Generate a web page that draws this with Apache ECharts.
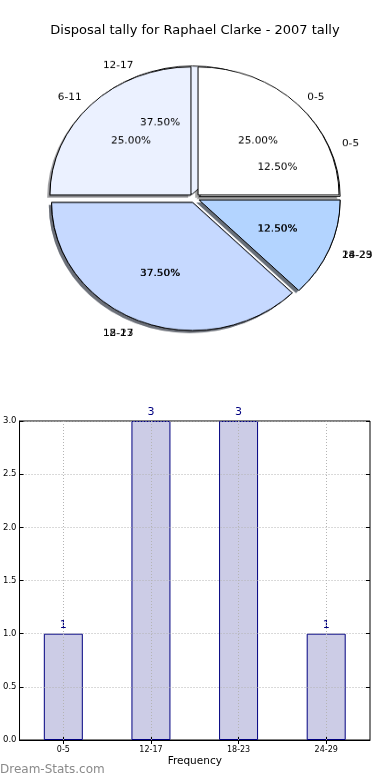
<!DOCTYPE html>
<html><head><meta charset="utf-8">
<script src="https://cdn.jsdelivr.net/npm/echarts@6/dist/echarts.min.js"></script>
<style>
html,body{margin:0;padding:0;background:#fff}
#bar{position:absolute;left:0;top:0;width:390px;height:780px}
#pie{position:absolute;left:0;top:0;width:390px;height:400px;transform:scaleY(0.908);transform-origin:0 0}
</style></head><body>
<div id="bar"></div><div id="pie"></div>
<script>
const titleText = 'Disposal tally for Raphael Clarke - 2007 tally';
const pieACategories = ['0-5', '12-17', '18-23', '24-29'];
const pieAValues = [1, 3, 3, 1];
const pieBCategories = ['0-5', '6-11', '12-17', '18-23'];
const pieBValues = [2, 2, 3, 1];
const barCategories = ['0-5', '12-17', '18-23', '24-29'];
const barValues = [1, 3, 3, 1];
const yTickLabels = ['0.0', '0.5', '1.0', '1.5', '2.0', '2.5', '3.0'];
const xAxisTitle = 'Frequency';
const watermark = 'Dream-Stats.com';

const FONT = 'DejaVu Sans';
const wedgeColors = ['#FFFFFF', '#EBF1FF', '#C6D9FF', '#B3D4FF'];
const R = 141, CX = 194.5, CY = 218.3, EXP = 5;
const SDX = -2.8, SDY = 2.9;

function shadowColor(hex) {
  const n = parseInt(hex.slice(1), 16);
  const r = Math.round(((n >> 16) & 255) * 0.3), g = Math.round(((n >> 8) & 255) * 0.3), b = Math.round((n & 255) * 0.3);
  return 'rgba(' + r + ',' + g + ',' + b + ',0.5)';
}
const basePie = {
  type: 'pie', startAngle: 0, clockwise: false, selectedMode: 'multiple', selectedOffset: EXP,
  silent: true, animation: false, avoidLabelOverlap: false, labelLine: { show: false },
  labelLayout: { hideOverlap: false }, emphasis: { disabled: true }
};
function shadowSeries(cats, vals) {
  return Object.assign({}, basePie, {
    center: [CX + SDX, CY + SDY], radius: [0, R], label: { show: false },
    itemStyle: { borderWidth: 0 },
    data: cats.map((c, i) => ({ name: c, value: vals[i], selected: true,
      itemStyle: { color: shadowColor(wedgeColors[i % wedgeColors.length]) },
      select: { itemStyle: { color: shadowColor(wedgeColors[i % wedgeColors.length]), borderWidth: 0 } } }))
  });
}
function wedgeSeries(cats, vals) {
  return Object.assign({}, basePie, {
    center: [CX, CY], radius: [0, R], label: { show: false },
    itemStyle: { borderColor: '#000', borderWidth: 1 },
    data: cats.map((c, i) => ({ name: c, value: vals[i], selected: true,
      itemStyle: { color: wedgeColors[i % wedgeColors.length] },
      select: { itemStyle: { color: wedgeColors[i % wedgeColors.length], borderColor: '#000', borderWidth: 1 } } }))
  });
}
function nameLabelSeries(cats, vals, z) {
  const total = vals.reduce((a, b) => a + b, 0);
  let cum = 0;
  return Object.assign({}, basePie, {
    center: [CX, CY], radius: [R * 0.95, R * 1.2], z: z,
    itemStyle: { color: 'rgba(0,0,0,0)', borderWidth: 0 },
    label: { show: true, position: 'inside', color: '#000', fontSize: 10.5, fontFamily: FONT,
      rich: { l: { width: 60, align: 'left', fontSize: 10.5, fontFamily: FONT, color: '#000' },
              r: { width: 60, align: 'right', fontSize: 10.5, fontFamily: FONT, color: '#000' } } },
    data: cats.map((c, i) => {
      const mid = (cum + vals[i] / 2) / total * 2 * Math.PI; cum += vals[i];
      const right = Math.cos(mid) > 0;
      return { name: c, value: vals[i], selected: true,
        select: { itemStyle: { color: 'rgba(0,0,0,0)', borderWidth: 0 } },
        label: { padding: right ? [3, 0, 0, 60] : [3, 60, 0, 0], formatter: '{' + (right ? 'l' : 'r') + '|' + c + '}' } };
    })
  });
}
function pctLabelSeries(cats, vals, z) {
  const total = vals.reduce((a, b) => a + b, 0);
  return Object.assign({}, basePie, {
    center: [CX, CY], radius: [R * 0.16, R], z: z,
    itemStyle: { color: 'rgba(0,0,0,0)', borderWidth: 0 },
    label: { show: true, position: 'inside', color: '#000', fontSize: 10.5, fontFamily: FONT, padding: [3, 0, 0, 0],
      formatter: p => (p.value / total * 100).toFixed(2) + '%' },
    data: cats.map((c, i) => ({ name: c, value: vals[i], selected: true,
      select: { itemStyle: { color: 'rgba(0,0,0,0)', borderWidth: 0 } } }))
  });
}

const pie = echarts.init(document.getElementById('pie'), null, { renderer: 'canvas' });
pie.setOption({
  animation: false,
  series: [
    shadowSeries(pieACategories, pieAValues),
    shadowSeries(pieBCategories, pieBValues),
    wedgeSeries(pieACategories, pieAValues),
    wedgeSeries(pieBCategories, pieBValues),
    nameLabelSeries(pieACategories, pieAValues, 5),
    pctLabelSeries(pieACategories, pieAValues, 5),
    nameLabelSeries(pieBCategories, pieBValues, 6),
    pctLabelSeries(pieBCategories, pieBValues, 6)
  ]
});

const gridLine = { color: '#b4b4b4', type: [1, 2], width: 1 };
const bar = echarts.init(document.getElementById('bar'), null, { renderer: 'canvas' });
bar.setOption({
  animation: false,
  title: { text: titleText, left: 'center', top: 19,
    textStyle: { fontSize: 13, fontWeight: 'normal', color: '#000', fontFamily: FONT } },
  grid: { left: 19, right: 20, top: 421, bottom: 40, show: true, borderColor: '#000', borderWidth: 1 },
  xAxis: [
    { type: 'category', data: barCategories, z: 3,
      axisLine: { lineStyle: { color: '#000', width: 1 } },
      axisTick: { show: true, alignWithLabel: true, inside: true, length: 4, lineStyle: { color: '#000' } },
      axisLabel: { fontSize: 8, color: '#000', margin: 6, fontFamily: FONT },
      name: xAxisTitle, nameLocation: 'middle', nameGap: 16,
      nameTextStyle: { fontSize: 10.5, color: '#000', fontFamily: FONT },
      splitLine: { show: false } },
    { type: 'category', data: barCategories, position: 'top', z: 3,
      axisLine: { show: false },
      axisTick: { show: true, alignWithLabel: true, inside: true, length: 4, lineStyle: { color: '#000' } },
      axisLabel: { show: false }, splitLine: { show: false } }
  ],
  yAxis: [
    { type: 'value', min: 0, max: 3, interval: 0.5, z: 3,
      axisLine: { show: true, lineStyle: { color: '#000', width: 1 } },
      axisTick: { show: true, inside: true, length: 4, lineStyle: { color: '#000' } },
      axisLabel: { fontSize: 8.5, color: '#000', margin: 3, fontFamily: FONT,
        formatter: v => yTickLabels[Math.round(v / 0.5)] },
      splitLine: { show: true, lineStyle: gridLine } },
    { type: 'value', min: 0, max: 3, interval: 0.5, position: 'right', z: 3,
      axisLine: { show: false },
      axisTick: { show: true, inside: true, length: 4, lineStyle: { color: '#000' } },
      axisLabel: { show: false }, splitLine: { show: false } }
  ],
  series: [{
    type: 'bar', data: barValues, barWidth: 39, xAxisIndex: 0, yAxisIndex: 0,
    itemStyle: { color: '#CCCCE6', borderColor: '#000080', borderWidth: 1 },
    label: { show: true, position: 'top', distance: 3, color: '#000080', fontSize: 11, fontFamily: FONT },
    markLine: { silent: true, symbol: 'none', animation: false, label: { show: false },
      lineStyle: gridLine, data: barCategories.map(c => ({ xAxis: c })) }
  }],
  graphic: [{ type: 'text', left: 0, top: 764,
    style: { text: watermark, fontSize: 12, fill: '#8a8a8a', fontFamily: FONT } }]
});
</script>
</body></html>
